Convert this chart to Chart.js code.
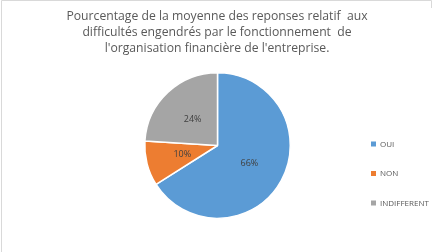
<!DOCTYPE html>
<html>
<head>
<meta charset="utf-8">
<script src="https://cdn.jsdelivr.net/npm/chart.js@4"></script>
<style>
  html, body { margin: 0; padding: 0; background: #fff; }
  #wrap { position: relative; width: 433px; height: 252px; }
</style>
</head>
<body>
<div id="wrap"><canvas id="chart1" width="433" height="252"></canvas></div>
<script>
// Données du graphique
const categories = ['OUI', 'NON', 'INDIFFERENT'];
const pourcentages = [66, 10, 24];
const couleurs = ['#5B9BD5', '#ED7D31', '#A5A5A5'];
const titre = [
    'Pourcentage de la moyenne des reponses relatif  aux',
    'difficultés engendrés par le fonctionnement  de',
    "l'organisation financière de l'entreprise."
];

const POLICE = "'Open Sans', sans-serif";

// Plugin: cadre, titre, étiquettes et légende
const decor = {
    id: 'decor',
    afterDraw(chart) {
        const ctx = chart.ctx;
        ctx.save();
        // cadre gris clair
        ctx.strokeStyle = '#d9d9d9';
        ctx.lineWidth = 1;
        ctx.beginPath();
        ctx.moveTo(1.5, 252);
        ctx.lineTo(1.5, 0.5);
        ctx.lineTo(431.5, 0.5);
        ctx.lineTo(431.5, 8);
        ctx.stroke();

        // titre
        ctx.fillStyle = '#595959';
        ctx.font = "12.2px " + POLICE;
        ctx.textAlign = 'center';
        ctx.textBaseline = 'middle';
        titre.forEach((ligne, i) => ctx.fillText(ligne, 217, 17 + i * 16));

        // étiquettes de pourcentage
        const meta = chart.getDatasetMeta(0);
        ctx.fillStyle = '#404040';
        ctx.font = "9px " + POLICE;
        meta.data.forEach((arc, i) => {
            const p = arc.tooltipPosition();
            ctx.fillText(pourcentages[i] + '%', p.x, p.y);
        });

        // légende
        ctx.textAlign = 'left';
        ctx.font = "8px " + POLICE;
        categories.forEach((c, i) => {
            const y = 144 + i * 29.5;
            ctx.fillStyle = couleurs[i];
            ctx.fillRect(371, y - 2.5, 5, 5);
            ctx.fillStyle = '#595959';
            ctx.fillText(c, 380, y + 0.5);
        });
        ctx.restore();
    }
};

const graphique = new Chart(document.getElementById('chart1'), {
    type: 'pie',
    data: {
        labels: categories,
        datasets: [{
            data: pourcentages,
            backgroundColor: couleurs,
            borderColor: '#ffffff',
            borderWidth: 1.5
        }]
    },
    options: {
        responsive: false,
        animation: false,
        layout: { padding: { left: 144, right: 142, top: 72, bottom: 33 } },
        plugins: {
            legend: { display: false },
            title: { display: false },
            tooltip: { enabled: false }
        }
    },
    plugins: [decor]
});
</script>
</body>
</html>
